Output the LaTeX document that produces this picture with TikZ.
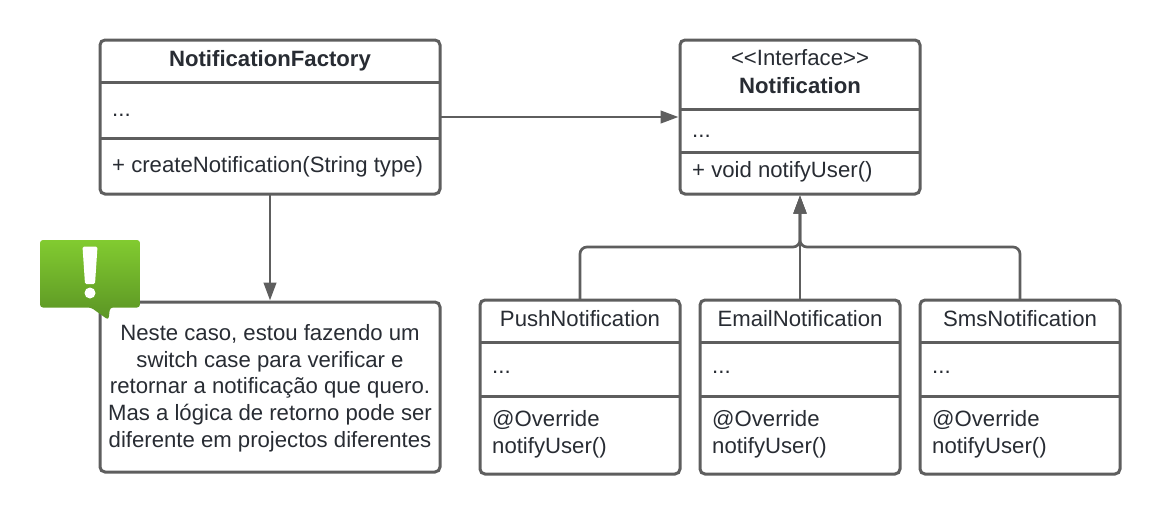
\documentclass[tikz,border=0pt]{standalone}
\usepackage{fontspec}
\usetikzlibrary{arrows.meta}
\setmainfont{Liberation Sans}
\definecolor{linec}{HTML}{5E5E5E}
\definecolor{textc}{HTML}{282C33}
\definecolor{gtop}{HTML}{82CB30}
\definecolor{gbot}{HTML}{5A9424}
\begin{document}
\begin{tikzpicture}[x=1pt,y=-1pt,
  umlbox/.style={draw=linec,line width=3pt,rounded corners=5pt,fill=white,minimum width=#1,outer sep=0pt,inner sep=0pt,anchor=north west},
  umlbox/.default=200pt,
  sep/.style={draw=linec,line width=3pt},
  link/.style={draw=linec,line width=2.7pt,shorten >=1.5pt,-{Triangle[length=18pt,width=12.5pt]}},
  txt/.style={font=\fontsize{22.15}{26}\selectfont,text=textc,inner sep=0pt,anchor=base west},
  ctxt/.style={txt,anchor=base},
  btxt/.style={font=\fontsize{22.15}{26}\bfseries\selectfont,text=textc,inner sep=0pt,anchor=base},
]
\useasboundingbox[fill=white] (0,0) rectangle (1160,515);

% Boxes
\node[umlbox=340pt,minimum height=154pt] (factory) at (100,40) {};
\node[umlbox=240pt,minimum height=154pt] (iface) at (680,40) {};
\node[umlbox=340pt,minimum height=170pt] (note) at (100,302) {};
\node[umlbox=200pt,minimum height=174pt] (push) at (480,300) {};
\node[umlbox=200pt,minimum height=174pt] (email) at (700,300) {};
\node[umlbox=200pt,minimum height=174pt] (sms) at (920,300) {};

% Compartment lines
\draw[sep] (factory.west |- 0,82) -- (factory.east |- 0,82);
\draw[sep] (factory.west |- 0,138) -- (factory.east |- 0,138);
\draw[sep] (iface.west |- 0,109) -- (iface.east |- 0,109);
\draw[sep] (iface.west |- 0,152) -- (iface.east |- 0,152);
\foreach \b in {push,email,sms}{
  \draw[sep] (\b.west |- 0,342) -- (\b.east |- 0,342);
  \draw[sep] (\b.west |- 0,396) -- (\b.east |- 0,396);
}

% Connectors
\coordinate (junc) at (iface.south |- 0,247);
\path[link] (factory.east) -- (iface.west);
\path[link] (factory.south) -- (note.north);
\path[link,rounded corners=7pt] (push.north) -- (push.north |- junc) -- (junc) -- (iface.south);
\path[link] (email.north) -- (iface.south);
\path[link,rounded corners=7pt] (sms.north) -- (sms.north |- junc) -- (junc) -- (iface.south);

% Texts
\node[btxt] (t1) at (270,66) {NotificationFactory};
\node[txt] (t2) at (112,116.5) {...};
\node[txt] (t3) at (112,172) {+ createNotification(String type)};
\node[ctxt] (t4) at (800,65.7) {<{}<Interface>{}>};
\node[btxt] (t5) at (800,93) {Notification};
\node[txt] (t6) at (692,137) {...};
\node[txt] (t7) at (692,177.7) {+ void notifyUser()};

\node[ctxt] (p1) at (580,326) {PushNotification};
\node[txt] (p2) at (492,373.5) {...};
\node[txt] (p3) at (492,426) {@Override};
\node[txt] (p4) at (492,453) {notifyUser()};
\node[ctxt] (e1) at (800,326) {EmailNotification};
\node[txt] (e2) at (712,373.5) {...};
\node[txt] (e3) at (712,426) {@Override};
\node[txt] (e4) at (712,453) {notifyUser()};
\node[ctxt] (s1) at (1020,326) {SmsNotification};
\node[txt] (s2) at (932,373.5) {...};
\node[txt] (s3) at (932,426) {@Override};
\node[txt] (s4) at (932,453) {notifyUser()};

\node[ctxt,align=center,font=\fontsize{22.15}{26.7}\selectfont,anchor=center] (n1) at (270,388)
 {Neste caso, estou fazendo um\\switch case para verificar e\\retornar a notificação que quero.\\Mas a lógica de retorno pode ser\\diferente em projectos diferentes};

% Alert icon
\shade[top color=gtop,bottom color=gbot,rounded corners=3pt]
  (40,240) -- (140,240) -- (140,307.5) -- (110,307.5) -- (108.5,320) -- (91,307.5) -- (40,307.5) -- cycle;
\fill[white,rounded corners=1.5pt] (82.5,246.5) -- (97.5,246.5) -- (95,284) -- (85,284) -- cycle;
\fill[white] (90,293) ellipse (5.5pt and 5.5pt);
\end{tikzpicture}
\end{document}
